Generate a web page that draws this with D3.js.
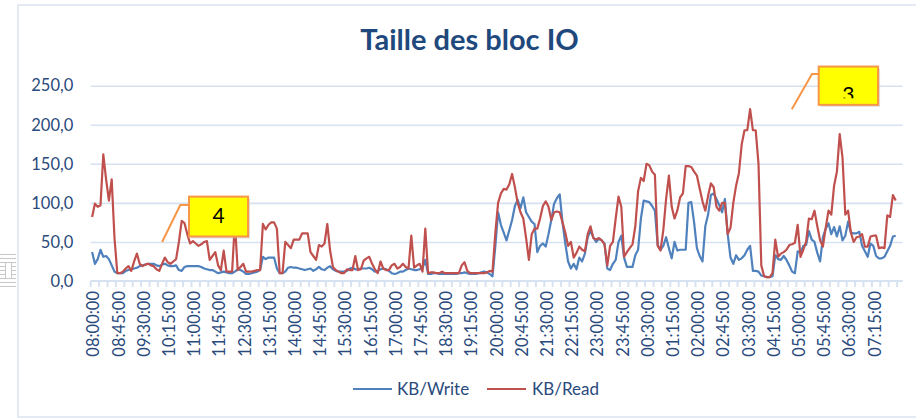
<!DOCTYPE html>
<html>
<head>
<meta charset="utf-8">
<script src="https://cdn.jsdelivr.net/npm/d3@7/dist/d3.min.js"></script>
<style>
  body { margin: 0; background: #fff; }
  text { font-family: Lato, "Open Sans", sans-serif; }
</style>
</head>
<body>
<div id="chart"></div>
<script>
// series, one value every 5 minutes from 08:00:00
var kbWrite = [
  37,22,28,40,31,32,28,20,12,10,
  10,10,13,14,15,16,17,19,20,21,
  22,22,22,20,19,21,22,20,19,19,
  20,14,13,18,19,19,19,19,19,18,
  16,15,14,14,12,10,11,12,11,10,
  10,12,15,14,12,9,9,10,11,12,
  14,31,28,30,30,30,16,10,10,12,
  17,18,17,17,16,15,14,15,16,13,
  15,18,15,14,17,19,15,13,12,12,
  12,13,16,17,15,15,16,16,16,17,
  15,12,13,15,16,15,13,10,9,10,
  12,12,14,16,15,14,14,15,16,27,
  9,9,10,10,9,9,9,9,9,9,
  9,10,10,11,10,9,9,9,10,11,
  12,11,9,6,44,88,72,62,52,65,
  78,96,104,93,107,88,82,76,73,37,
  45,48,44,60,78,99,106,111,75,48,
  25,16,22,15,30,25,35,56,65,56,
  50,54,52,48,16,14,22,27,50,58,
  30,18,18,18,33,40,80,103,102,101,
  96,90,46,40,45,56,42,29,50,39,
  40,40,40,100,101,75,42,32,25,70,
  85,110,112,105,97,88,105,60,30,22,
  33,27,29,33,40,45,13,13,12,7,
  6,5,5,6,33,28,27,32,27,20,
  12,10,38,36,45,46,64,53,50,36,
  25,56,67,74,60,69,57,70,52,58,
  76,62,61,61,63,45,38,31,48,45,
  32,29,29,31,38,45,57,58
];
var kbRead = [
  82,99,95,97,162,130,103,130,55,10,
  10,12,16,19,13,25,35,22,19,21,
  22,20,19,15,13,22,30,24,22,25,
  28,50,77,74,60,48,51,48,45,47,
  50,51,27,32,37,20,14,39,12,12,
  12,75,14,18,22,12,12,12,13,14,
  14,73,66,72,75,75,67,10,10,50,
  46,42,53,53,53,61,61,61,37,32,
  27,46,44,48,73,39,18,14,12,10,
  10,15,14,14,32,14,15,26,29,31,
  22,15,10,25,16,14,14,20,22,16,
  18,22,18,16,58,17,20,22,12,67,
  10,11,11,10,10,12,10,10,10,10,
  10,10,20,24,13,10,10,10,10,10,
  10,11,13,12,61,100,112,118,117,124,
  137,120,100,88,80,55,27,60,67,67,
  80,96,102,95,78,88,89,88,75,62,
  45,50,30,36,44,40,38,60,70,55,
  53,55,52,47,20,45,50,80,108,95,
  31,37,42,47,70,115,132,128,150,148,
  140,136,45,39,65,105,135,95,80,90,
  107,112,147,147,146,140,135,118,102,90,
  109,125,120,95,90,100,100,60,68,100,
  122,138,175,193,193,220,193,193,150,20,
  6,5,5,10,53,31,35,37,40,46,
  47,49,72,31,40,50,80,79,90,70,
  52,44,68,90,85,122,140,188,158,85,
  90,62,50,56,57,60,44,44,57,58,
  58,42,43,42,84,82,110,103
];
var seriesNames = ["KB/Write", "KB/Read"];
var seriesColors = ["#4F81BD", "#C0504D"];
var yTicks = [0, 50, 100, 150, 200, 250];

// time categories: 08:00:00 every 5 minutes, label every 45 minutes
var slots = 290;
var times = d3.range(kbRead.length).map(function(i) {
  var m = (8 * 60 + i * 5) % (24 * 60);
  return d3.format("02")(Math.floor(m / 60)) + ":" + d3.format("02")(m % 60) + ":00";
});
var labelIdx = d3.range(0, kbRead.length, 9);

// callouts, in data units (category index, value)
var callouts = [
  {text: "4", i0: 34.6, i1: 55.7, v0: 57, v1: 108, lead: [[25, 50], [31.5, 97.3], [34.6, 97.3]], clip: false},
  {text: "3", i0: 259.5, i1: 280.7, v0: 225.5, v1: 274.5, lead: [[249.9, 219.8], [257.1, 265], [259.5, 265]], clip: true}
];

var width = 916, height = 420;
var plotLeft = 90.7, plotRight = 902.7, plotTop = 85.7, plotBottom = 281;

var svg = d3.select("#chart").append("svg")
  .attr("width", width)
  .attr("height", height);

var x = d3.scaleLinear().domain([-0.5, slots - 0.5]).range([plotLeft, plotRight]);
var y = d3.scaleLinear().domain([0, 250]).range([plotBottom, plotTop]);

// chart frame
svg.append("rect")
  .attr("x", 18).attr("y", 5).attr("width", 920).attr("height", 412)
  .attr("fill", "#fff").attr("stroke", "#DCE4EF").attr("stroke-width", 1.5);

// little grey handle on the left edge
var handle = svg.append("g").attr("stroke", "#C8C8C8").attr("stroke-width", 1);
d3.range(254, 290, 4).forEach(function(yy) {
  handle.append("line").attr("x1", 0).attr("x2", 16).attr("y1", yy + 0.5).attr("y2", yy + 0.5);
});
handle.append("rect").attr("x", 5.5).attr("y", 262.5).attr("width", 6).attr("height", 16).attr("fill", "#fff");

// title
svg.append("text")
  .attr("x", 469.5).attr("y", 50)
  .attr("text-anchor", "middle")
  .style("font-size", "29px").style("font-weight", "bold")
  .attr("fill", "#1F497D")
  .text("Taille des bloc IO");

// gridlines
svg.append("g")
  .attr("transform", "translate(" + plotLeft + ",0)")
  .call(d3.axisLeft(y).tickValues(yTicks.slice(1)).tickSize(-(plotRight - plotLeft)).tickFormat(""))
  .call(function(g) { g.select(".domain").remove(); })
  .selectAll("line").attr("stroke", "#D7E2F1").attr("stroke-width", 1.6);

// y labels
svg.append("g")
  .attr("transform", "translate(" + plotLeft + ",0)")
  .call(d3.axisLeft(y).tickValues(yTicks).tickSize(0).tickPadding(17.4)
    .tickFormat(function(d) { return d3.format(".1f")(d).replace(".", ","); }))
  .call(function(g) { g.select(".domain").remove(); })
  .selectAll("text")
    .style("font-size", "16.5px").style("font-family", "Lato, sans-serif")
    .attr("fill", "#2A4A7C");

// category axis line with tick marks every 3 categories
var xAxis = svg.append("g");
xAxis.append("line")
  .attr("x1", plotLeft).attr("x2", plotRight)
  .attr("y1", plotBottom).attr("y2", plotBottom)
  .attr("stroke", "#D7E2F1").attr("stroke-width", 2);
xAxis.selectAll(".tk")
  .data(d3.range(0, slots + 1, 3))
  .enter().append("line")
    .attr("x1", function(d) { return x(d - 0.5); })
    .attr("x2", function(d) { return x(d - 0.5); })
    .attr("y1", plotBottom).attr("y2", plotBottom + 6)
    .attr("stroke", "#D7E2F1").attr("stroke-width", 2);

// rotated time labels
xAxis.selectAll(".lbl")
  .data(labelIdx)
  .enter().append("text")
    .attr("transform", function(d) { return "translate(" + (x(d) + 1.5) + "," + (plotBottom + 10) + ") rotate(-90)"; })
    .attr("text-anchor", "end")
    .attr("dy", "0.35em")
    .style("font-size", "16.5px")
    .attr("fill", "#2A4A7C")
    .text(function(d) { return times[d]; });

// lines
var line = d3.line()
  .x(function(d, i) { return x(i); })
  .y(function(d) { return y(d); });

[kbWrite, kbRead].forEach(function(s, k) {
  svg.append("path")
    .datum(s)
    .attr("d", line)
    .attr("fill", "none")
    .attr("stroke", seriesColors[k])
    .attr("stroke-width", 2.2)
    .attr("stroke-linejoin", "round");
});

// callouts
var defs = svg.append("defs");
callouts.forEach(function(c, n) {
  var bx = x(c.i0), bw = x(c.i1) - x(c.i0), by = y(c.v1), bh = y(c.v0) - y(c.v1);
  svg.append("path")
    .datum(c.lead)
    .attr("d", d3.line().x(function(d) { return x(d[0]); }).y(function(d) { return y(d[1]); }))
    .attr("fill", "none").attr("stroke", "#F79646").attr("stroke-width", 2);
  svg.append("rect")
    .attr("x", bx + 2).attr("y", by + 2).attr("width", bw).attr("height", bh)
    .attr("fill", "#BFBFBF").attr("opacity", 0.5);
  svg.append("rect")
    .attr("x", bx).attr("y", by).attr("width", bw).attr("height", bh)
    .attr("fill", "#FFFF00").attr("stroke", "#F79646").attr("stroke-width", 2);
  defs.append("clipPath").attr("id", "cl" + n)
    .append("rect").attr("x", bx).attr("y", by).attr("width", bw).attr("height", bh * 0.83);
  var t = svg.append("text")
    .attr("x", bx + bw / 2)
    .attr("y", c.clip ? by + bh * 0.92 : by + bh * 0.66)
    .attr("text-anchor", "middle")
    .style("font-size", "21px")
    .attr("fill", "#000")
    .text(c.text);
  if (c.clip) t.attr("clip-path", "url(#cl" + n + ")");
});

// legend
var legend = svg.append("g");
[[353, 397], [487, 532]].forEach(function(p, k) {
  legend.append("line")
    .attr("x1", p[0]).attr("x2", p[0] + 39).attr("y1", 389).attr("y2", 389)
    .attr("stroke", seriesColors[k]).attr("stroke-width", 2.2);
  legend.append("text")
    .attr("x", p[1]).attr("y", 389).attr("dy", "0.35em")
    .style("font-size", "17px").attr("fill", "#2A4A7C")
    .text(seriesNames[k]);
});
</script>
</body>
</html>
